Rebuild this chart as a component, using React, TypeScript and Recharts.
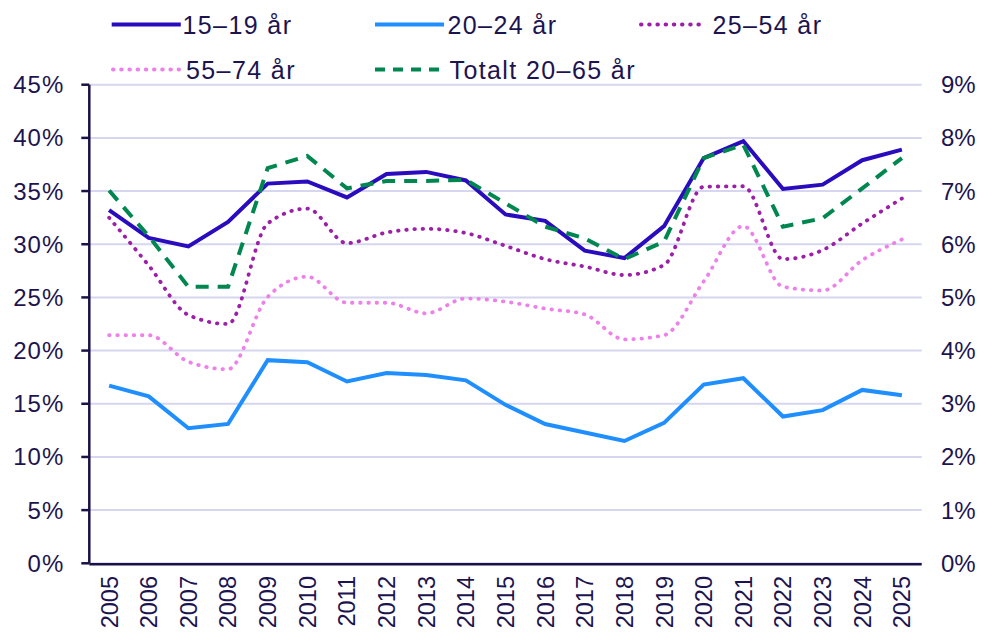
import React from 'react';
import { LineChart, Line, XAxis, YAxis, CartesianGrid } from 'recharts';

const years = ['2005','2006','2007','2008','2009','2010','2011','2012','2013','2014','2015','2016','2017','2018','2019','2020','2021','2022','2023','2024','2025'];
const youth1519 = [33.2,30.6,29.8,32.1,35.7,35.9,34.4,36.6,36.8,36.0,32.8,32.2,29.4,28.7,31.7,38.1,39.7,35.2,35.6,37.9,38.9];
const youth2024 = [16.7,15.7,12.7,13.1,19.1,18.9,17.1,17.9,17.7,17.2,14.9,13.1,12.3,11.5,13.2,16.8,17.4,13.8,14.4,16.3,15.8];
const adult2554 = [6.5,5.6,4.67,4.5,6.39,6.67,6.02,6.22,6.29,6.21,5.97,5.72,5.58,5.42,5.61,7.08,7.09,5.72,5.89,6.39,6.86];
const senior5574 = [4.29,4.29,3.79,3.65,5.01,5.39,4.9,4.9,4.7,4.98,4.92,4.79,4.68,4.21,4.29,5.3,6.34,5.2,5.13,5.7,6.09];
const total2065 = [7.01,6.15,5.2,5.2,7.43,7.66,7.05,7.19,7.19,7.21,6.77,6.33,6.11,5.72,6.05,7.62,7.87,6.33,6.49,7.05,7.62];

const leftTicks = [0,5,10,15,20,25,30,35,40,45];
const rightTicks = [0,1,2,3,4,5,6,7,8,9];
const edgeTicks = [0,1,2,3,4,5,6,7,8,9,10,11,12,13,14,15,16,17,18,19,20,21];

const names = ['15–19 år','20–24 år','25–54 år','55–74 år','Totalt 20–65 år'];
const colors = ['#2a0cbe','#1f8fff','#9c1fa8','#ee80ea','#00874f'];

const W = 968;
const H = 623;
const NAVY = '#1a1246';
const TEXT = '#1c1450';
const FONT = '"Liberation Sans", Arial, sans-serif';

const DOT = '0.5 7.7';
const DASH = '13 9';

const YearTick = (props: any) => {
  const { x, y, payload } = props;
  return (
    <text x={x} y={y} transform={`rotate(-90, ${x}, ${y})`} textAnchor="end" dy="0.36em"
      fill={TEXT} fontSize={23.5} fontFamily={FONT}>{payload.value}</text>
  );
};

const legendItems = [
  { i: 0, x1: 103.7, x2: 172.8, tx: 174.5, y: 16.5, ty: 25.5, dash: undefined as string | undefined, cap: 'butt' },
  { i: 1, x1: 367, x2: 436, tx: 439.5, y: 16.5, ty: 25.5, dash: undefined, cap: 'butt' },
  { i: 2, x1: 633, x2: 698, tx: 704.5, y: 16.5, ty: 25.5, dash: DOT, cap: 'round' },
  { i: 3, x1: 105, x2: 171, tx: 178, y: 61.5, ty: 70.5, dash: DOT, cap: 'round' },
  { i: 4, x1: 367, x2: 436, tx: 441.5, y: 61.5, ty: 70.5, dash: '10 8', cap: 'butt' },
];

export default function App() {
  const data = years.map((year, k) => ({
    year,
    a: youth1519[k],
    b: youth2024[k],
    c: adult2554[k],
    d: senior5574[k],
    e: total2065[k],
  }));

  return (
    <div style={{ position: 'relative', width: W, height: H, fontFamily: FONT }}>
      <LineChart width={W} height={H} data={data}
        margin={{ top: 76.7, right: 0, bottom: 65.7, left: 0 }}>
        <CartesianGrid xAxisId="edge" yAxisId="left" vertical={false} stroke="#d6d6f0" strokeWidth={2} />
        <XAxis xAxisId="edge" type="number" domain={[0, 21]} ticks={edgeTicks} tick={false} tickSize={8}
          height={1} allowDataOverflow
          axisLine={{ stroke: NAVY, strokeWidth: 2.5 }} tickLine={{ stroke: NAVY, strokeWidth: 2.5 }} />
        <XAxis xAxisId="cat" dataKey="year" scale="band" height={1} axisLine={false} tickLine={false} tickSize={0}
          tickMargin={12.7} interval={0} tick={(p: any) => <YearTick {...p} />} />
        <YAxis yAxisId="left" width={81.3} domain={[0, 45]} ticks={leftTicks} interval={0}
          tickFormatter={(v: number) => `${v}%`} tickSize={8} tickMargin={17}
          axisLine={{ stroke: NAVY, strokeWidth: 2.5 }} tickLine={{ stroke: NAVY, strokeWidth: 2.5 }}
          tick={{ fill: TEXT, fontSize: 24, fontFamily: FONT, letterSpacing: 1 }} />
        <YAxis yAxisId="right" orientation="right" width={54.3} domain={[0, 9]} ticks={rightTicks} interval={0}
          tickFormatter={(v: number) => `${v}%`} tickSize={0} tickMargin={19.3}
          axisLine={false} tickLine={false}
          tick={{ fill: TEXT, fontSize: 24, fontFamily: FONT, textAnchor: 'start' }} />
        <Line xAxisId="cat" yAxisId="left" dataKey="a" name={names[0]} type="linear" stroke={colors[0]}
          strokeWidth={4} dot={false} activeDot={false} isAnimationActive={false} />
        <Line xAxisId="cat" yAxisId="left" dataKey="b" name={names[1]} type="linear" stroke={colors[1]}
          strokeWidth={4} dot={false} activeDot={false} isAnimationActive={false} />
        <Line xAxisId="cat" yAxisId="right" dataKey="c" name={names[2]} type="monotone" stroke={colors[2]}
          strokeWidth={3.8} strokeDasharray={DOT} strokeLinecap="round" dot={false} activeDot={false} isAnimationActive={false} />
        <Line xAxisId="cat" yAxisId="right" dataKey="d" name={names[3]} type="monotone" stroke={colors[3]}
          strokeWidth={3.8} strokeDasharray={DOT} strokeLinecap="round" dot={false} activeDot={false} isAnimationActive={false} />
        <Line xAxisId="cat" yAxisId="right" dataKey="e" name={names[4]} type="linear" stroke={colors[4]}
          strokeWidth={4} strokeDasharray={DASH} dot={false} activeDot={false} isAnimationActive={false} />
      </LineChart>
      <svg width={W} height={90} style={{ position: 'absolute', left: 0, top: 0, overflow: 'visible' }}>
        {legendItems.map((it) => (
          <g key={it.i}>
            <line x1={it.x1} x2={it.x2} y1={it.y} y2={it.y} stroke={colors[it.i]} strokeWidth={4}
              strokeDasharray={it.dash} strokeLinecap={it.cap as any} />
            <text x={it.tx} y={it.ty} fill={TEXT} fontSize={25} fontFamily={FONT} letterSpacing={1.4}>{names[it.i]}</text>
          </g>
        ))}
      </svg>
    </div>
  );
}
